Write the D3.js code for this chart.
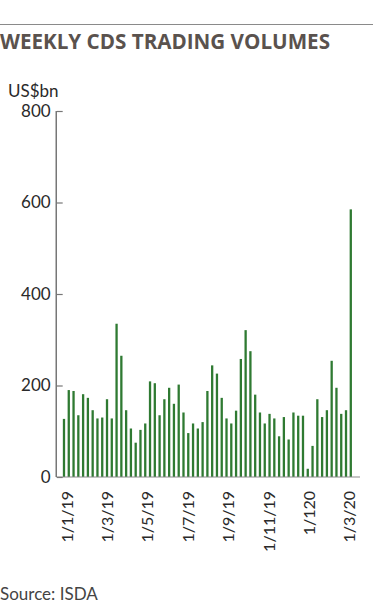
<!DOCTYPE html>
<html>
<head>
<meta charset="utf-8">
<script src="https://cdn.jsdelivr.net/npm/d3@7"></script>
<style>
  html, body { margin: 0; padding: 0; background: #fff; }
  svg { display: block; }
  text { font-family: Lato, "Open Sans", sans-serif; }
</style>
</head>
<body>
<svg id="chart" width="373" height="616"></svg>
<script>
// ---- data ----
const title = "WEEKLY CDS TRADING VOLUMES";
const unitLabel = "US$bn";
const sourceText = "Source: ISDA";
const weeks = d3.timeFriday.range(new Date(2019, 0, 4), new Date(2020, 2, 1));
const volumes = [
  127, 190, 188, 135, 181, 173, 146, 128, 130, 170,
  128, 335, 265, 146, 106, 75, 103, 117, 209, 205,
  135, 170, 195, 160, 202, 141, 96, 117, 106, 120,
  188, 244, 226, 173, 128, 117, 145, 258, 321, 275,
  180, 141, 117, 138, 128, 89, 131, 82, 141, 134,
  134, 18, 68, 170, 131, 146, 254, 195, 138, 146,
  585
];
const yTicks = [0, 200, 400, 600, 800];
const xTickLabels = ["1/1/19", "1/3/19", "1/5/19", "1/7/19", "1/9/19", "1/11/19", "1/120", "1/3/20"];

// ---- layout ----
const svg = d3.select("#chart");
const yBase = 477, yTop = 111;
const axisX = 56.7;

const data = weeks.map((w, i) => ({ week: w, value: volumes[i] }));

const x = d3.scaleBand()
  .domain(data.map(d => +d.week))
  .range([61.6, 61.6 + 61 * 4.78])
  .paddingInner(0.52)
  .paddingOuter(0.26);

const y = d3.scaleLinear().domain([0, 800]).range([yBase, yTop]);

const xLab = d3.scalePoint().domain(xTickLabels).range([66.5, 349]);

// top rule
svg.append("line")
  .attr("x1", 0).attr("x2", 373).attr("y1", 24.5).attr("y2", 24.5)
  .attr("stroke", "#8a8a8a").attr("stroke-width", 1.2);

// title
const t = svg.append("text")
  .attr("x", 0).attr("y", 49)
  .attr("font-size", 22).attr("font-weight", 700)
  .attr("fill", "#5a524e")
  .style("font-family", "'Open Sans', Lato, sans-serif")
  .text(title);
t.attr("textLength", 330).attr("lengthAdjust", "spacingAndGlyphs");

// unit label
svg.append("text")
  .attr("x", 8).attr("y", 97)
  .attr("font-size", 17).attr("fill", "#2a2a2a")
  .text(unitLabel);

// bars
svg.append("g").selectAll("rect")
  .data(data)
  .join("rect")
  .attr("x", d => x(+d.week))
  .attr("width", x.bandwidth())
  .attr("y", d => y(d.value))
  .attr("height", d => yBase - y(d.value))
  .attr("fill", "#2f7a32");

// x baseline
svg.append("line")
  .attr("x1", axisX).attr("x2", 360).attr("y1", yBase).attr("y2", yBase)
  .attr("stroke", "#8c8c8c").attr("stroke-width", 1.2);

// y axis
const yAxis = svg.append("g")
  .attr("transform", `translate(${axisX},0)`)
  .call(d3.axisLeft(y).tickValues(yTicks).tickSize(-6).tickPadding(6).tickFormat(d3.format("d")));
yAxis.select(".domain").attr("stroke", "#555").attr("stroke-width", 1.2)
  .attr("d", `M-0.5,${yBase}V${yTop}`);
yAxis.selectAll(".tick line").attr("stroke", "#777").attr("stroke-width", 1.2);
yAxis.selectAll(".tick text")
  .attr("font-size", 17).attr("fill", "#2a2a2a")
  .style("font-family", "Lato, sans-serif");

// x axis labels
const xAxis = svg.append("g")
  .attr("transform", `translate(0,${yBase})`)
  .call(d3.axisBottom(xLab).tickSize(0));
xAxis.select(".domain").remove();
xAxis.selectAll(".tick text")
  .attr("transform", "rotate(-90)")
  .attr("x", -14).attr("y", 0).attr("dy", "0.36em")
  .attr("text-anchor", "end")
  .attr("font-size", 16).attr("fill", "#2a2a2a")
  .style("font-family", "Lato, sans-serif");

// source
svg.append("text")
  .attr("x", 0).attr("y", 600)
  .attr("font-size", 17).attr("fill", "#444")
  .text(sourceText);
</script>
</body>
</html>
